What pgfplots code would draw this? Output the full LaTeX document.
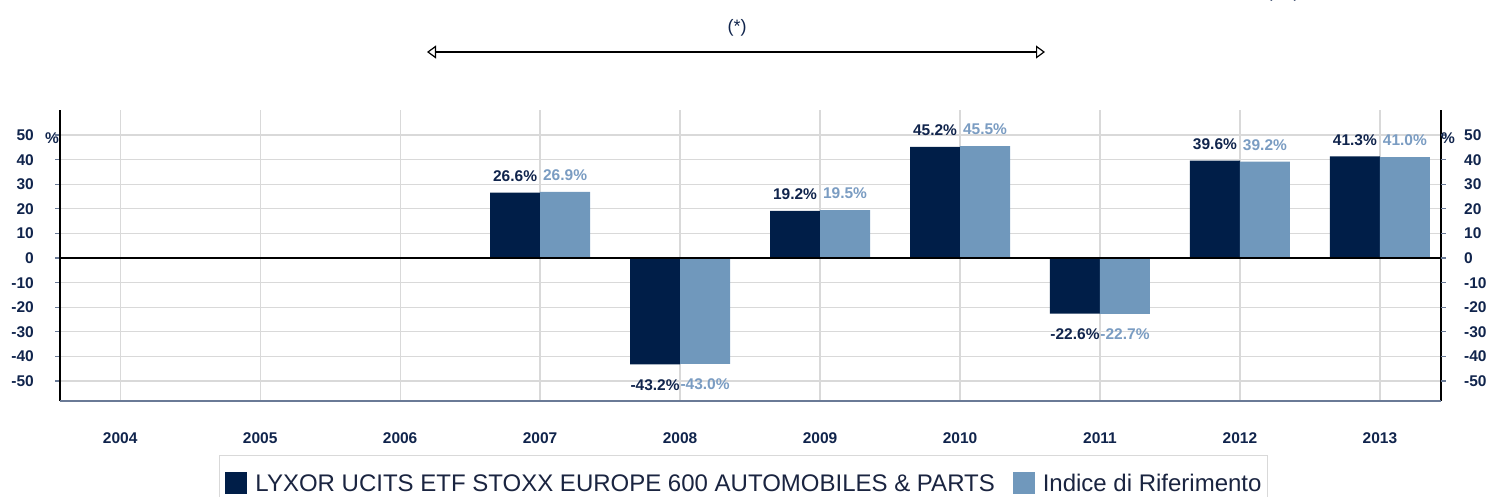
\documentclass[border=0pt]{standalone}
\usepackage{pgfplots}
\pgfplotsset{compat=1.18}
\usepackage{fontspec}
\setmainfont{Liberation Sans}
\usetikzlibrary{arrows.meta}
\definecolor{darkbar}{HTML}{001E48}
\definecolor{lightbar}{HTML}{7098BC}
\definecolor{darklab}{HTML}{10244C}
\definecolor{lightlab}{HTML}{7A9CC2}
\definecolor{gridc}{HTML}{D9D9D9}
\definecolor{tickc}{HTML}{6A7A96}
\definecolor{legtext}{HTML}{1A2440}
\pgfplotsset{/pgf/number format/assume math mode=true}
\begin{document}
\begin{tikzpicture}
\useasboundingbox (0,0) rectangle (1488pt,-496pt);
\begin{axis}[
  at={(60pt,-401pt)}, anchor=south west,
  scale only axis, width=1381pt, height=291pt,
  xmin=-0.43, xmax=9.436, ymin=-58.1, ymax=60.2,
  ybar=0pt, bar width=50pt,
  xtick={0,...,9},
  xticklabels={2004,2005,2006,2007,2008,2009,2010,2011,2012,2013},
  ytick={-50,-40,...,50},
  grid=major, major grid style={gridc, line width=1.2pt},
  axis line style={draw=none},
  xtick style={draw=none},
  ytick style={tickc, line width=1.2pt},
  tick align=outside, major tick length=5pt,
  ytick pos=left,
  xticklabel style={font=\fontsize{15.5}{17}\selectfont\bfseries, text=darklab, inner sep=0pt, anchor=north, yshift=-26pt},
  yticklabel style={font=\fontsize{15.5}{17}\selectfont\bfseries, text=darklab, inner sep=0pt, anchor=east, xshift=-21pt},
  clip=false,
  nodes near coords={\rule{0pt}{14.5pt}\pgfmathprintnumber[fixed,fixed zerofill,precision=1]{\pgfplotspointmeta}\%},
  every node near coord/.append style={font=\fontsize{15.5}{17}\selectfont\bfseries, inner xsep=0pt, inner ysep=11pt},
  legend columns=2,
  legend style={at={(0.11513,-0.1856)}, anchor=north west, draw=gridc, line width=1pt,
    font=\fontsize{24}{26}\selectfont, text=legtext, inner xsep=6pt, inner ysep=16pt,
    nodes={inner xsep=0pt},
    /tikz/every odd column/.append style={column sep=8pt},
    /tikz/every even column/.append style={column sep=18pt}},
  legend image code/.code={\fill[#1] (0pt,-10pt) rectangle (22pt,12pt);},
]
\addplot[fill=darkbar, draw=none, every node near coord/.append style={text=darklab}]
  coordinates {(3,26.6) (4,-43.2) (5,19.2) (6,45.2) (7,-22.6) (8,39.6) (9,41.3)};
\addlegendentry{LYXOR UCITS ETF STOXX EUROPE 600 AUTOMOBILES \& PARTS}
\addplot[fill=lightbar, draw=none, every node near coord/.append style={text=lightlab}]
  coordinates {(3,26.9) (4,-43.0) (5,19.5) (6,45.5) (7,-22.7) (8,39.2) (9,41.0)};
\addlegendentry{Indice di Riferimento\hspace{15pt}}
\draw[black, line width=1.3pt] (axis cs:-0.43,0) -- (axis cs:9.436,0);
\draw[black, line width=1.2pt] (rel axis cs:0,0) -- (rel axis cs:0,1);
\draw[black, line width=1.2pt] (rel axis cs:1,0) -- (rel axis cs:1,1);
\draw[tickc, line width=1.5pt] (rel axis cs:0,0) -- (rel axis cs:1,0);
\end{axis}
\begin{axis}[
  at={(60pt,-401pt)}, anchor=south west,
  scale only axis, width=1381pt, height=291pt,
  xmin=-0.43, xmax=9.436, ymin=-58.1, ymax=60.2,
  axis line style={draw=none},
  xtick=\empty,
  ytick={-50,-40,...,50},
  ytick pos=right, yticklabel pos=right,
  ytick style={tickc, line width=1.2pt},
  tick align=outside, major tick length=5pt,
  yticklabel style={font=\fontsize{15.5}{17}\selectfont\bfseries, text=darklab, inner sep=0pt, anchor=west, xshift=18pt},
]
\end{axis}
\node[font=\fontsize{15.5}{17}\selectfont\bfseries, text=darklab] at (52pt,-138pt) {\%};
\node[font=\fontsize{15.5}{17}\selectfont\bfseries, text=darklab] at (1448pt,-138pt) {\%};
\draw[{Triangle[open,length=9pt,width=13pt]}-{Triangle[open,length=9pt,width=13pt]}, line width=1.2pt] (427pt,-52pt) -- (1045pt,-52pt);
\node[font=\fontsize{18}{20}\selectfont, text=darklab] at (737pt,-28pt) {(*)};
\node[font=\fontsize{18}{20}\selectfont, text=darklab, anchor=south] at (1283pt,-5pt) {(***)};
\end{tikzpicture}
\end{document}
